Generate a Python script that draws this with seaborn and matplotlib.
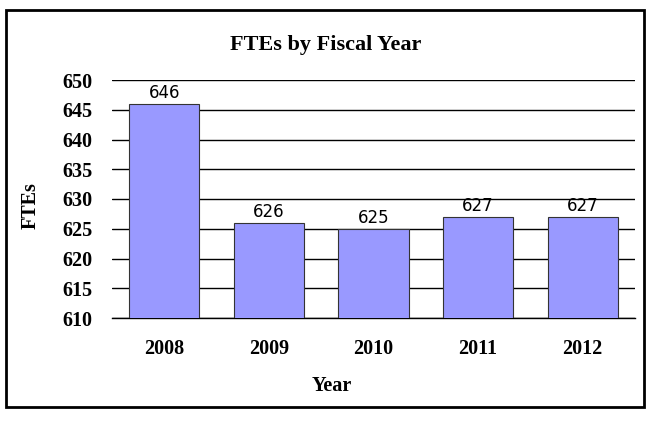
import matplotlib
matplotlib.use("Agg")
import matplotlib.pyplot as plt
import seaborn as sns
import pandas as pd
from matplotlib.patches import Rectangle

years = ["2008", "2009", "2010", "2011", "2012"]
ftes = [646, 626, 625, 627, 627]
yticks = [610, 615, 620, 625, 630, 635, 640, 645, 650]

sns.set_theme(style="white")
plt.rcParams['font.family'] = ['Liberation Serif', 'DejaVu Serif']
plt.rcParams['text.color'] = 'black'
plt.rcParams['xtick.color'] = 'black'
plt.rcParams['ytick.color'] = 'black'
plt.rcParams['axes.labelcolor'] = 'black'

df = pd.DataFrame({"Year": years, "FTEs": ftes})

W, H = 650, 422
fig = plt.figure(figsize=(6.5, 4.22), dpi=100)
ax = fig.add_axes([112/W, 1-318/H, (635-112)/W, (318-80)/H])

sns.barplot(data=df, x="Year", y="FTEs", color="#9999FF", saturation=1,
            width=0.67, edgecolor="#333333", linewidth=0.8, ax=ax, zorder=3)

ax.set_ylim(610, 650)
ax.set_yticks(yticks)
ax.set_xlim(-0.5, 4.5)
for y in yticks:
    ax.axhline(y, color="black", lw=1.0, zorder=1)
for s in ["top", "right", "left"]:
    ax.spines[s].set_visible(False)
ax.spines["bottom"].set_color("black")
ax.spines["bottom"].set_linewidth(1.0)
ax.tick_params(axis="y", length=0, pad=14, labelsize=14.5, labelcolor="black")
ax.tick_params(axis="x", length=0, pad=15, labelsize=14.5, labelcolor="black")
for lbl in ax.get_xticklabels() + ax.get_yticklabels():
    lbl.set_fontweight("bold")

for i, v in enumerate(ftes):
    ax.text(i, v + 0.35, str(v), ha="center", va="bottom", fontsize=12,
            family=["DejaVu Sans"], fontweight="normal", color="black", zorder=4)

ax.set_xlabel("")
ax.set_ylabel("")
fig.text(332/W, 1-386/H, "Year", ha="center", va="center",
         fontsize=14.5, fontweight="bold", color="black")
fig.text(31/W, 1-206/H, "FTEs", ha="center", va="center", rotation=90,
         fontsize=14.5, fontweight="bold", color="black")
fig.text(326/W, 1-45/H, "FTEs by Fiscal Year",
         ha="center", va="center", fontsize=16, fontweight="bold", color="black")

fig.patches.append(Rectangle((6/W, 1-407/H), (644-6)/W, (407-10)/H,
                             transform=fig.transFigure, fill=False,
                             edgecolor="black", lw=2))

fig.savefig("out.png", dpi=100)
